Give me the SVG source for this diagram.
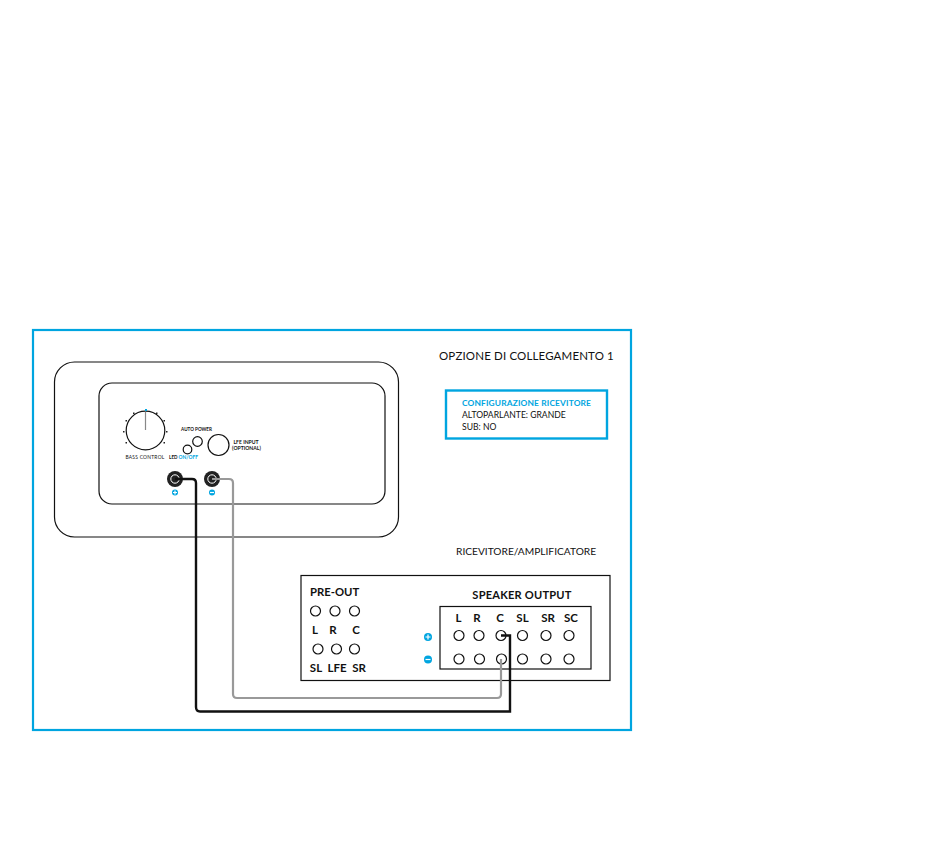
<svg xmlns="http://www.w3.org/2000/svg" width="950" height="843" viewBox="0 0 950 843">
<style>
text{font-family:"Lato","Open Sans","Liberation Sans",sans-serif;fill:#111}
.box{fill:none;stroke:#111;stroke-width:1.2}
.j{fill:#fff;stroke:#111;stroke-width:1.2}
.b{font-weight:700}
.lab{font-size:11.500px;font-weight:700;text-anchor:middle}
.blue{fill:#00a5e0}
.tick{fill:#222}
.wk{fill:none;stroke:#111;stroke-width:2.4}
.wg{fill:none;stroke:#999;stroke-width:2.2}
.sign{stroke:#fff;stroke-width:1.2}
</style>
<rect width="950" height="843" fill="#fff"/>
<rect id="frame" x="33" y="330" width="598" height="400" fill="none" stroke="#00a5e0" stroke-width="2.2"/>
<g id="speaker">
<rect class="box" x="54.500" y="362" width="344" height="175" rx="20"/>
<rect class="box" x="99" y="383" width="286" height="121" rx="13"/>
<circle class="j" cx="145.500" cy="430.500" r="19.300"/>
<line x1="145.500" y1="411.500" x2="145.500" y2="430" stroke="#888" stroke-width="1.200"/>
<rect x="145" y="409" width="2" height="2" class="blue"/>
<g class="tick">
<rect x="133" y="412.500" width="1.500" height="1.500"/><rect x="156" y="412.500" width="1.500" height="1.500"/>
<rect x="125.500" y="420" width="1.500" height="1.500"/><rect x="163.500" y="420" width="1.500" height="1.500"/>
<rect x="123" y="431" width="1.500" height="1.500"/><rect x="166" y="431" width="1.500" height="1.500"/>
<rect x="125.500" y="442" width="1.500" height="1.500"/><rect x="163.500" y="442" width="1.500" height="1.500"/>
</g>
<text x="145" y="459" font-size="4.900" text-anchor="middle" letter-spacing=".25">BASS CONTROL</text>
<text x="196.500" y="431" font-size="4.600" text-anchor="middle" class="b">AUTO POWER</text>
<circle class="j" cx="197.500" cy="441.500" r="4.800"/>
<circle class="j" cx="187.500" cy="449.500" r="4.300"/>
<circle class="j" cx="218.500" cy="445" r="10.500"/>
<text x="246" y="443.500" font-size="5.100" text-anchor="middle" class="b">LFE INPUT</text>
<text x="246.500" y="449.500" font-size="5.100" text-anchor="middle" class="b">(OPTIONAL)</text>
<text x="169" y="459" font-size="4.600" class="b">LED</text>
<text x="178.500" y="459" font-size="4.900" class="b" style="fill:#00a5e0">ON/OFF</text>
<g id="terminal-plus"><circle cx="175" cy="479" r="8" fill="#222"/><circle cx="175" cy="479" r="4.200" fill="none" stroke="#fff" stroke-width="1"/></g>
<g id="terminal-minus"><circle cx="212" cy="479" r="8" fill="#222"/><circle cx="212" cy="479" r="4.200" fill="none" stroke="#fff" stroke-width="1"/></g>
<circle class="blue" cx="175" cy="492.500" r="3"/><path class="sign" d="M173 492.500h4M175 490.500v4"/>
<circle class="blue" cx="212" cy="492.500" r="3"/><path class="sign" d="M210 492.500h4"/>
</g>
<g id="title"><text x="439" y="359.500" font-size="11.500" letter-spacing=".15">OPZIONE DI COLLEGAMENTO 1</text></g>
<g id="config">
<rect x="446" y="390.500" width="161" height="48" fill="none" stroke="#00a5e0" stroke-width="2.400"/>
<text x="462" y="405.500" font-size="8.400" class="b" style="fill:#00a5e0" letter-spacing=".15">CONFIGURAZIONE RICEVITORE</text>
<text x="462" y="417.500" font-size="8.600">ALTOPARLANTE: GRANDE</text>
<text x="462" y="430" font-size="8.600">SUB: NO</text>
</g>
<g id="receiver">
<text x="456" y="555" font-size="10.200">RICEVITORE/AMPLIFICATORE</text>
<rect class="box" x="301" y="575.500" width="309" height="105"/>
<text x="310" y="595.500" font-size="11.300" class="b">PRE-OUT</text>
<text x="522" y="598.500" font-size="11.100" class="b" text-anchor="middle" letter-spacing=".2">SPEAKER OUTPUT</text>
<circle class="j" cx="315.500" cy="611" r="5"/><circle class="j" cx="335" cy="611" r="5"/><circle class="j" cx="354.500" cy="611" r="5"/>
<text class="lab" x="315" y="633.500">L</text><text class="lab" x="333" y="633.500">R</text><text class="lab" x="356" y="633.500">C</text>
<circle class="j" cx="318" cy="649" r="5"/><circle class="j" cx="336.500" cy="649" r="5"/><circle class="j" cx="354.500" cy="649" r="5"/>
<text class="lab" x="316" y="672">SL</text><text class="lab" x="337" y="672">LFE</text><text class="lab" x="359" y="672">SR</text>
<rect class="box" x="440" y="606.500" width="151" height="62.500"/>
<text class="lab" x="458.500" y="621.500">L</text><text class="lab" x="477" y="621.500">R</text><text class="lab" x="500" y="621.500">C</text><text class="lab" x="522.500" y="621.500">SL</text><text class="lab" x="548" y="621.500">SR</text><text class="lab" x="571" y="621.500">SC</text>
<circle class="j" cx="459" cy="635.500" r="5"/><circle class="j" cx="479" cy="635.500" r="5"/><circle class="j" cx="501" cy="635.500" r="5"/><circle class="j" cx="522.500" cy="635.500" r="5"/><circle class="j" cx="546" cy="635.500" r="5"/><circle class="j" cx="569" cy="635.500" r="5"/>
<circle class="j" cx="459" cy="659" r="5"/><circle class="j" cx="479.500" cy="659" r="5"/><circle class="j" cx="501.500" cy="659" r="5"/><circle class="j" cx="522.500" cy="659" r="5"/><circle class="j" cx="546" cy="659" r="5"/><circle class="j" cx="569" cy="659" r="5"/>
<circle class="blue" cx="428" cy="637" r="4"/><path class="sign" d="M425.500 637h5M428 634.500v5"/>
<circle class="blue" cx="428" cy="659.500" r="4"/><path class="sign" d="M425.500 659.500h5"/>
</g>
<g id="connectors">
<path class="wg" d="M212 479H229Q233 479 233 483V694Q233 698 237 698H497Q501 698 501 694V659"/>
<path class="wk" d="M175 479H192Q196 479 196 483V707Q196 711.500 200 711.500H510V635.500H501"/>
</g>
</svg>
